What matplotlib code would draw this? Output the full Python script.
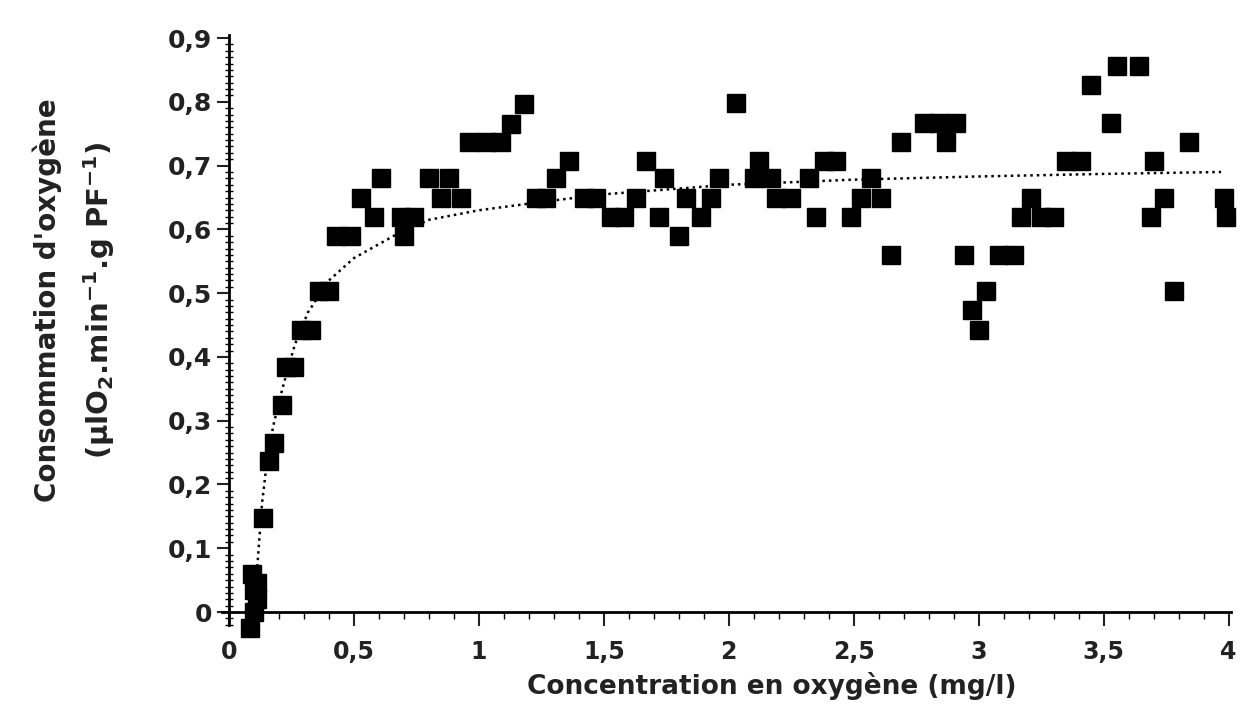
import matplotlib
matplotlib.use("Agg")
import matplotlib.pyplot as plt
from matplotlib.ticker import MultipleLocator, FuncFormatter

plt.rcParams['font.family'] = ['DejaVu Sans']
plt.rcParams['font.weight'] = 'bold'
plt.rcParams['mathtext.fontset'] = 'custom'
plt.rcParams['mathtext.rm'] = 'DejaVu Sans:bold'
plt.rcParams['mathtext.bf'] = 'DejaVu Sans:bold'

# measured points (mg/l, uL O2 / min / g PF)
conc = [0.085, 0.10, 0.11, 0.10, 0.11, 0.09, 0.137, 0.16, 0.18, 0.212,
        0.23, 0.26, 0.29, 0.33, 0.36, 0.40, 0.43, 0.49, 0.53, 0.58,
        0.61, 0.70, 0.69, 0.74, 0.80, 0.85, 0.88, 0.93, 0.96, 1.03,
        1.09, 1.13, 1.18, 1.23, 1.27, 1.31, 1.36, 1.42, 1.47, 1.53,
        1.58, 1.63, 1.67, 1.72, 1.74, 1.80, 1.83, 1.89, 1.93, 1.96,
        2.03, 2.10, 2.12, 2.17, 2.19, 2.25, 2.32, 2.35, 2.38, 2.43,
        2.49, 2.53, 2.57, 2.61, 2.65, 2.69, 2.78, 2.84, 2.87, 2.91,
        2.94, 2.975, 3.00, 3.03, 3.08, 3.14, 3.17, 3.21, 3.25, 3.30,
        3.35, 3.41, 3.45, 3.53, 3.555, 3.64, 3.69, 3.70, 3.74, 3.78,
        3.84, 3.98, 3.99]
conso = [-0.025, 0.0, 0.02, 0.035, 0.045, 0.06, 0.147, 0.237, 0.265, 0.325,
         0.384, 0.384, 0.442, 0.442, 0.503, 0.503, 0.59, 0.59, 0.65, 0.62,
         0.68, 0.59, 0.62, 0.62, 0.68, 0.65, 0.68, 0.65, 0.737, 0.737,
         0.737, 0.766, 0.797, 0.65, 0.65, 0.68, 0.707, 0.65, 0.65, 0.62,
         0.62, 0.65, 0.707, 0.62, 0.68, 0.59, 0.65, 0.62, 0.65, 0.68,
         0.798, 0.68, 0.707, 0.68, 0.65, 0.65, 0.68, 0.62, 0.707, 0.707,
         0.62, 0.65, 0.68, 0.65, 0.56, 0.737, 0.767, 0.767, 0.737, 0.767,
         0.56, 0.473, 0.442, 0.503, 0.56, 0.56, 0.62, 0.65, 0.62, 0.62,
         0.707, 0.707, 0.826, 0.767, 0.856, 0.856, 0.62, 0.707, 0.65, 0.503,
         0.737, 0.65, 0.62]

# fitted curve
fit_x = [0.1, 0.116, 0.132, 0.15, 0.176, 0.2, 0.224, 0.264, 0.316, 0.4,
         0.5, 0.66, 0.8, 1.0, 1.25, 1.5, 2.0, 2.5, 3.0, 3.5, 3.97]
fit_y = [0.0, 0.086, 0.17, 0.23, 0.29, 0.33, 0.365, 0.42, 0.47, 0.52,
         0.555, 0.59, 0.615, 0.63, 0.643, 0.655, 0.67, 0.678, 0.683, 0.687, 0.69]

fig = plt.figure(figsize=(12.41, 7.09), dpi=100)
ax = fig.add_axes([0.1785, 0.1188, 0.8135, 0.832])

ax.plot(fit_x, fit_y, color='black', lw=1.8, linestyle=(0, (1, 1.6)))
ax.plot(conc, conso, linestyle='none', marker='s', ms=13, color='black',
        clip_on=False)

ax.set_xlim(-0.03, 4.01)
ax.set_ylim(-0.02, 0.905)

ax.spines['top'].set_visible(False)
ax.spines['right'].set_visible(False)
ax.spines['bottom'].set_position(('data', 0))
ax.spines['left'].set_position(('data', 0))
ax.spines['bottom'].set_linewidth(2)
ax.spines['left'].set_linewidth(2)

ax.xaxis.set_major_locator(MultipleLocator(0.5))
ax.xaxis.set_minor_locator(MultipleLocator(0.1))
ax.yaxis.set_major_locator(MultipleLocator(0.1))
ax.yaxis.set_minor_locator(MultipleLocator(0.01))

def comma(v, pos):
    s = ('%.1f' % v).rstrip('0').rstrip('.')
    return s.replace('.', ',')

ax.xaxis.set_major_formatter(FuncFormatter(comma))
ax.yaxis.set_major_formatter(FuncFormatter(comma))

ax.tick_params(axis='x', which='major', direction='out', length=10, width=1.5,
               labelsize=17, pad=10, colors='#222222')
ax.tick_params(axis='x', which='minor', direction='out', length=5, width=1)
ax.tick_params(axis='y', which='major', direction='out', length=9, width=1.5,
               labelsize=18, pad=3, colors='#222222')
ax.tick_params(axis='y', which='minor', direction='inout', length=6, width=1)

fig.text(0.622, 0.032, "Concentration en oxygène (mg/l)", ha='center',
         va='center', fontsize=19, fontweight='bold', color='#222222')
fig.text(0.038, 0.577, "Consommation d'oxygène", rotation=90, ha='center',
         va='center', fontsize=20, fontweight='bold', color='#222222')
fig.text(0.080, 0.577, r"(µlO$_\mathbf{2}$.min$^\mathbf{-1}$.g PF$^\mathbf{-1}$)",
         rotation=90, ha='center', va='center', fontsize=21, fontweight='bold',
         color='#222222')

fig.savefig("out.png", dpi=100)
